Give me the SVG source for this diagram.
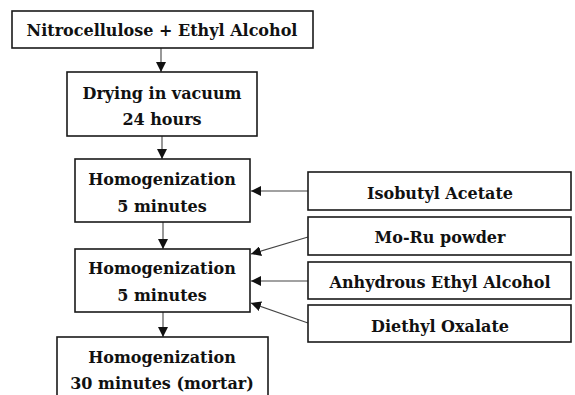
<svg xmlns="http://www.w3.org/2000/svg" width="575" height="395" viewBox="0 0 575 395">
<style>
.box{fill:#fff;stroke:#1a1a1a;stroke-width:1.6}
text{font-family:'DejaVu Serif',serif;font-weight:700;font-size:16px;fill:#111;text-anchor:middle}
.c{stroke:#444;stroke-width:1.1;fill:none;marker-end:url(#ah)}
</style>
<defs>
<marker id="ah" viewBox="0 0 10 10" refX="10" refY="5" markerWidth="10" markerHeight="10" markerUnits="userSpaceOnUse" orient="auto">
<path d="M0,0 L10,5 L0,10 z" fill="#111"/>
</marker>
</defs>
<rect width="575" height="395" fill="#fff"/>
<g id="connectors">
<line class="c" x1="161" y1="48" x2="161" y2="72"/>
<line class="c" x1="162" y1="136" x2="162" y2="159"/>
<line class="c" x1="163" y1="222" x2="163" y2="249"/>
<line class="c" x1="163" y1="312" x2="163" y2="337"/>
<line class="c" x1="308" y1="191" x2="251" y2="191"/>
<line class="c" x1="308" y1="237" x2="251" y2="254"/>
<line class="c" x1="308" y1="281" x2="251" y2="281"/>
<line class="c" x1="308" y1="323" x2="251" y2="303"/>
</g>
<g id="n1"><rect class="box" x="12" y="11" width="301" height="37"/><text x="162" y="36">Nitrocellulose + Ethyl Alcohol</text></g>
<g id="n2"><rect class="box" x="67" y="72" width="190" height="64"/><text x="162" y="99">Drying in vacuum</text><text x="162" y="125">24 hours</text></g>
<g id="n3"><rect class="box" x="75" y="159" width="175" height="63"/><text x="162" y="185">Homogenization</text><text x="162" y="212">5 minutes</text></g>
<g id="n4"><rect class="box" x="75" y="249" width="175" height="63"/><text x="162" y="274">Homogenization</text><text x="162" y="301">5 minutes</text></g>
<g id="n5"><rect class="box" x="57" y="337" width="211" height="70"/><text x="162" y="363">Homogenization</text><text x="162" y="389">30 minutes (mortar)</text></g>
<g id="r1"><rect class="box" x="308" y="172" width="263" height="38"/><text x="440" y="199">Isobutyl Acetate</text></g>
<g id="r2"><rect class="box" x="308" y="217" width="263" height="38"/><text x="440" y="243">Mo-Ru powder</text></g>
<g id="r3"><rect class="box" x="308" y="262" width="263" height="37"/><text x="440" y="288">Anhydrous Ethyl Alcohol</text></g>
<g id="r4"><rect class="box" x="308" y="305" width="263" height="37"/><text x="440" y="332">Diethyl Oxalate</text></g>
</svg>
